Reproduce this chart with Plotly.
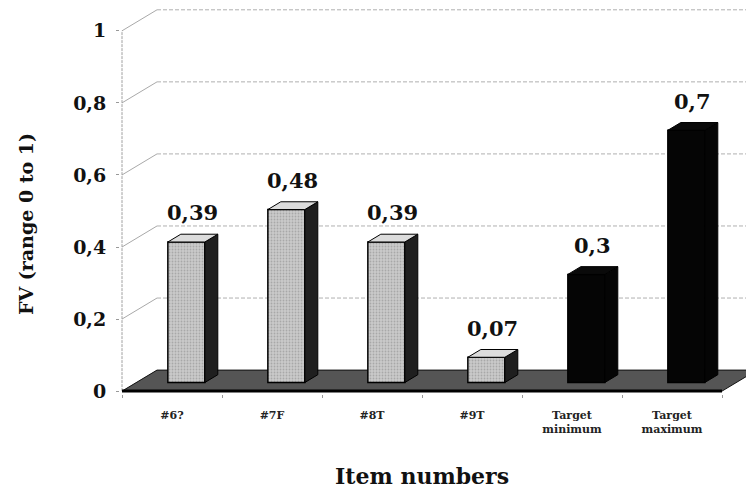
import plotly.graph_objects as go

# Facility values per item and the two target bounds
categories = ["#6?", "#7F", "#8T", "#9T", "Target<br>minimum", "Target<br>maximum"]
values = [0.39, 0.48, 0.39, 0.07, 0.30, 0.70]
value_labels = ["0,39", "0,48", "0,39", "0,07", "0,3", "0,7"]
is_target = [False, False, False, False, True, True]
y_ticks = [0, 0.2, 0.4, 0.6, 0.8, 1.0]
y_tick_text = ["0", "0,2", "0,4", "0,6", "0,8", "1"]

# Oblique projection used to fake the 3-D look
DX = 0.35            # full depth, in category units
DY = 21 / 360        # full depth, in value units
F0, F1 = 0.41, 0.78  # front / back depth of each column
W = 0.37             # column width

SERIF = "DejaVu Serif"
n = len(categories)
xs = list(range(n))
x_left, x_right = -0.5, n - 0.5

fig = go.Figure()

# Back wall gridlines and the diagonals joining them to the front axis
shapes = []
for v in y_ticks[1:]:
    shapes.append(dict(type="line", xref="x", yref="y", layer="below",
                       x0=x_left + DX, x1=x_right + 1, y0=v + DY, y1=v + DY,
                       line=dict(color="#b0b0b0", width=1, dash="4px,2px")))
    shapes.append(dict(type="line", xref="x", yref="y", layer="below",
                       x0=x_left, x1=x_left + DX, y0=v, y1=v + DY,
                       line=dict(color="#a9a9a9", width=1)))
# front value axis
shapes.append(dict(type="line", xref="x", yref="y", layer="below",
                   x0=x_left, x1=x_left, y0=0, y1=y_ticks[-1],
                   line=dict(color="#a0a0a0", width=1, dash="3px,1px")))
# floor
floor_path = (f"M {x_left},0 L {x_left + DX},{DY} L {x_right + DX},{DY} "
              f"L {x_right},0 Z")
shapes.append(dict(type="path", xref="x", yref="y", layer="below", path=floor_path,
                   fillcolor="#555555", line=dict(color="#111111", width=1)))
shapes.append(dict(type="line", xref="x", yref="y", layer="below",
                   x0=x_left, x1=x_right, y0=0, y1=0,
                   line=dict(color="#000000", width=3)))

# Front faces of the columns
centers = [x + F0 * DX for x in xs]
base = F0 * DY
for target, name in [(False, "items"), (True, "targets")]:
    idx = [i for i in range(n) if is_target[i] == target]
    if target:
        marker = dict(color="#050505", line=dict(color="#000000", width=1.5))
    else:
        marker = dict(color="#c6c6c6", line=dict(color="#000000", width=1.5),
                      pattern=dict(shape=".", fgcolor="#858585", bgcolor="#cacaca",
                                   size=3, solidity=0.3))
    fig.add_trace(go.Bar(x=[centers[i] for i in idx], y=[values[i] for i in idx],
                         base=base, width=W, marker=marker, name=name,
                         showlegend=False, hoverinfo="skip"))

# Side and top faces built from the same values
ddx = (F1 - F0) * DX
ddy = (F1 - F0) * DY
for i in range(n):
    xl = centers[i] - W / 2
    xr = centers[i] + W / 2
    top = values[i] + base
    side_col = "#050505" if is_target[i] else "#1f1f1f"
    top_col = "#0a0a0a" if is_target[i] else "#dcdcdc"
    fig.add_trace(go.Scatter(
        x=[xr, xr + ddx, xr + ddx, xr, xr],
        y=[base, base + ddy, top + ddy, top, base],
        mode="lines", fill="toself", fillcolor=side_col,
        line=dict(color="#000000", width=1), showlegend=False, hoverinfo="skip"))
    fig.add_trace(go.Scatter(
        x=[xl, xl + ddx, xr + ddx, xr, xl],
        y=[top, top + ddy, top + ddy, top, top],
        mode="lines", fill="toself", fillcolor=top_col,
        line=dict(color="#000000", width=1), showlegend=False, hoverinfo="skip"))

# Value labels above the columns
annotations = []
for i in range(n):
    annotations.append(dict(x=centers[i] + ddx / 2, y=values[i] + base + ddy,
                            xref="x", yref="y", text=value_labels[i], showarrow=False,
                            yanchor="bottom", yshift=7,
                            font=dict(family=SERIF, size=21, color="#111111",
                                      weight="bold")))
# Axis titles
annotations.append(dict(x=-0.150, y=0.464, xref="paper", yref="y",
                        text="FV (range 0 to 1)", textangle=-90, showarrow=False,
                        xanchor="center", yanchor="middle",
                        font=dict(family=SERIF, size=19, color="#111111",
                                  weight="bold")))
annotations.append(dict(x=(n - 1) / 2, y=-0.209, xref="x", yref="paper",
                        text="Item numbers", showarrow=False,
                        xanchor="center", yanchor="middle",
                        font=dict(family=SERIF, size=22, color="#111111",
                                  weight="bold")))

fig.update_layout(
    width=746, height=494, autosize=False,
    margin=dict(l=120, r=0, t=2, b=100),
    paper_bgcolor="white", plot_bgcolor="white",
    barmode="overlay", showlegend=False,
    shapes=shapes, annotations=annotations,
    xaxis=dict(range=[-0.52, 5.74], tickvals=xs, ticktext=categories,
               showgrid=False, zeroline=False, showline=False, ticks="",
               ticklabelstandoff=13,
               tickfont=dict(family=SERIF, size=11, color="#222222", weight="bold"),
               minor=dict(tickvals=[x - 0.5 for x in xs] + [x_right],
                          ticks="outside", ticklen=3, tickcolor="#999999"),
               fixedrange=True),
    yaxis=dict(range=[-0.008, 1.08], tickvals=y_ticks, ticktext=y_tick_text,
               showgrid=False, zeroline=False, showline=False,
               ticks="outside", ticklen=3, tickcolor="#999999",
               ticklabelstandoff=6,
               tickfont=dict(family=SERIF, size=19, color="#111111", weight="bold"),
               fixedrange=True),
)

fig.write_html("out.html")
